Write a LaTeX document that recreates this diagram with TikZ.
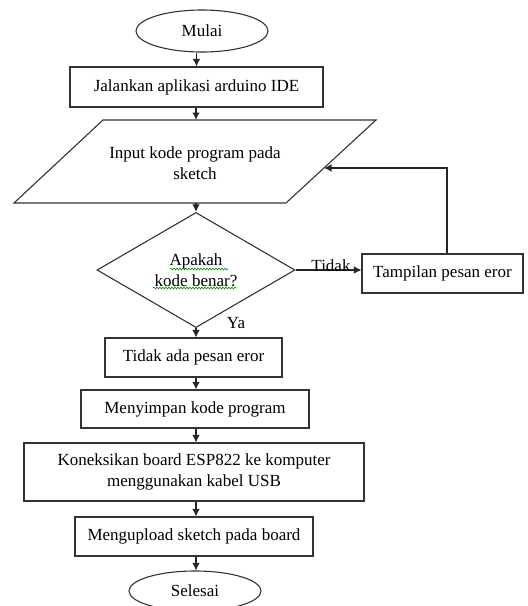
\documentclass[tikz,border=0pt]{standalone}
\usepackage{fontspec}
\setmainfont{Liberation Serif}
\usetikzlibrary{shapes.geometric,arrows.meta,decorations.pathmorphing}
\begin{document}
\begin{tikzpicture}[x=1pt,y=-1pt,
  line width=1.1pt,
  every node/.style={font=\fontsize{17}{20.5}\selectfont},
  box/.style={draw=black!80, rectangle, inner sep=0pt, align=center},
  term/.style={draw=black!80, ellipse, inner sep=0pt},
  arr/.style={draw=black!85, -{Latex[length=7.5pt,width=7.5pt]}},
  squig/.style={draw=green!55!black, line width=0.6pt, decorate, decoration={snake, amplitude=0.9pt, segment length=3pt}}
]
\useasboundingbox (0,0) rectangle (528,606);

% terminals
\node[term, minimum width=132pt, minimum height=42pt] (mulai) at (202,31) {Mulai};
\node[box, minimum width=253pt, minimum height=40pt] (jal) at (196.5,87) {Jalankan aplikasi arduino IDE};

% parallelogram
\coordinate (ptl) at (103,120);
\coordinate (ptr) at (376,120);
\coordinate (pbr) at (286,203);
\coordinate (pbl) at (14,203);
\draw[black!80] (ptl) -- (ptr) -- (pbr) -- (pbl) -- cycle;
\node[align=center] (inp) at (195,163) {Input kode program pada\\sketch};
\coordinate (ptop) at (196,120);
\coordinate (pbot) at (196,203);
\coordinate (pin) at (324,168);

% decision
\node[draw=black!80, diamond, inner sep=0pt, minimum width=198pt, minimum height=104pt, align=center] (dec) at (196,270) {Apakah\\kode benar?};
\draw[squig] (170,269) -- (228,269);
\draw[squig] (153,288) -- (236,288);

\node[box, minimum width=161pt, minimum height=39pt] (err) at (442.5,273.5) {Tampilan pesan eror};

\node[box, minimum width=177pt, minimum height=39pt] (noerr) at (193.5,357.5) {Tidak ada pesan eror};
\node[box, minimum width=228pt, minimum height=38pt] (save) at (195,409) {Menyimpan kode program};
\node[box, minimum width=340pt, minimum height=58pt] (conn) at (194,472) {Koneksikan board ESP822 ke komputer\\menggunakan kabel USB};
\node[box, minimum width=238pt, minimum height=39pt] (upl) at (194,536.5) {Mengupload sketch pada board};
\node[term, minimum width=132pt, minimum height=40pt] (sel) at (195,591) {Selesai};

% connectors
\draw[arr] (jal.north |- mulai.south) -- (jal.north);
\draw[arr] (ptop |- jal.south) -- (ptop);
\draw[arr] (pbot) -- (dec.north);
\draw[arr] (dec.south) -- (dec.south |- noerr.north);
\draw[arr] (dec.east) -- (err.west |- dec.east);
\draw[arr] (err.north -| 447,0) |- (pin);
\draw[arr] (noerr.south -| 196,0) -- (save.north -| 196,0);
\draw[arr] (save.south -| 196,0) -- (conn.north -| 196,0);
\draw[arr] (conn.south -| 196,0) -- (upl.north -| 196,0);
\draw[arr] (upl.south -| 196,0) -- (sel.north -| 196,0);

% labels
\node[anchor=south, inner sep=1pt] (tidak) at (331,273) {Tidak};
\node (ya) at (236,323) {Ya};
\end{tikzpicture}
\end{document}
